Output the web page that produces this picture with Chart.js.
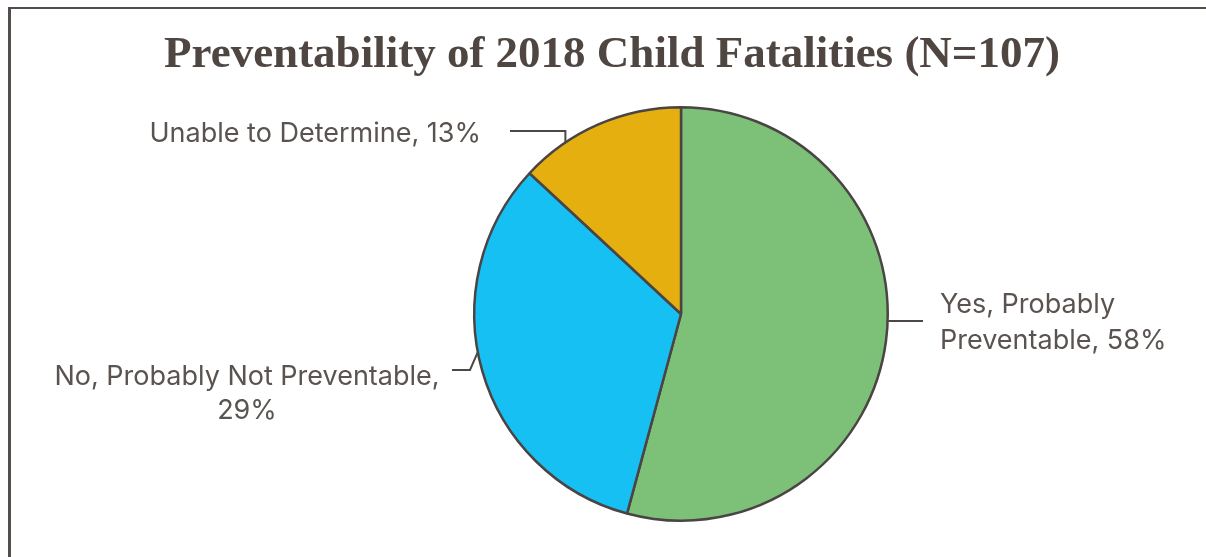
<!DOCTYPE html>
<html>
<head>
<meta charset="utf-8">
<script src="https://cdn.jsdelivr.net/npm/chart.js@4"></script>
<style>
    html, body { margin: 0; padding: 0; background: #fff; overflow: hidden; }
    #frame {
        position: absolute; left: 8px; top: 7px; width: 1400px; height: 700px;
        border-top: 2px solid #544e4b; border-left: 3px solid #544e4b;
    }
    #chart { position: absolute; left: 0; top: 0; }
</style>
</head>
<body>
<div id="frame"></div>
<canvas id="chart" width="1206" height="557"></canvas>
<script>
// Chart data (counts out of N=107, drawn slice sizes)
const categories = ['Yes, Probably Preventable', 'No, Probably Not Preventable', 'Unable to Determine'];
const counts = [58, 35, 14];
const pctLabels = ['58%', '29%', '13%'];
const sliceColors = ['#7dc077', '#17c0f2', '#e5b00f'];
const chartTitle = 'Preventability of 2018 Child Fatalities (N=107)';

// Label placement: text lines, first baseline, alignment, leader elbow, attach angle (deg from top, clockwise)
const labelLayout = [
    { lines: ['Yes, Probably', 'Preventable, ' + pctLabels[0]], x: 940, y: 313, align: 'left', lineH: 36,
      tail: [923, 321], elbow: null, angle: 92 },
    { lines: ['No, Probably Not Preventable,', pctLabels[1]], x: 247, y: 385, align: 'center', lineH: 34,
      tail: [452, 370], elbow: [470, 370], angle: 259.4 },
    { lines: ['Unable to Determine, ' + pctLabels[2]], x: 481, y: 142, align: 'right', lineH: 34,
      tail: [510, 131], elbow: null, angle: 326 }
];

const textColor = '#5a5350';
const lineColor = '#4d4747';

const labelPlugin = {
    id: 'pieLabels',
    afterDatasetsDraw(chart) {
        const ctx = chart.ctx;
        const arc = chart.getDatasetMeta(0).data[0];
        const cx = arc.x, cy = arc.y, r = arc.outerRadius;

        ctx.save();
        // Title
        ctx.fillStyle = '#4f4641';
        ctx.font = 'bold 45px "Liberation Serif", "Times New Roman", serif';
        ctx.textAlign = 'center';
        ctx.textBaseline = 'alphabetic';
        ctx.fillText(chartTitle, 612, 67);

        labelLayout.forEach((l) => {
            const a = l.angle * Math.PI / 180;
            const px = cx + r * Math.sin(a);
            const py = cy - r * Math.cos(a);

            // leader line
            ctx.strokeStyle = lineColor;
            ctx.lineWidth = 2;
            ctx.beginPath();
            ctx.moveTo(l.tail[0], l.tail[1]);
            if (l.elbow) {
                ctx.lineTo(l.elbow[0], l.elbow[1]);
            } else {
                ctx.lineTo(px, l.tail[1]);
            }
            ctx.lineTo(px, py);
            ctx.stroke();

            // text
            ctx.fillStyle = textColor;
            ctx.font = '27px Inter, "Noto Sans", sans-serif';
            ctx.textAlign = l.align;
            l.lines.forEach((t, i) => ctx.fillText(t, l.x, l.y + i * l.lineH));
        });
        ctx.restore();
    }
};

new Chart(document.getElementById('chart'), {
    type: 'pie',
    data: {
        labels: categories,
        datasets: [{
            data: counts,
            backgroundColor: sliceColors,
            borderColor: '#4a4444',
            borderWidth: 2.5
        }]
    },
    options: {
        responsive: false,
        animation: false,
        layout: { padding: { top: 106, bottom: 35, left: 300, right: 144 } },
        plugins: {
            legend: { display: false },
            tooltip: { enabled: false },
            title: { display: false }
        }
    },
    plugins: [labelPlugin]
});
</script>
</body>
</html>
